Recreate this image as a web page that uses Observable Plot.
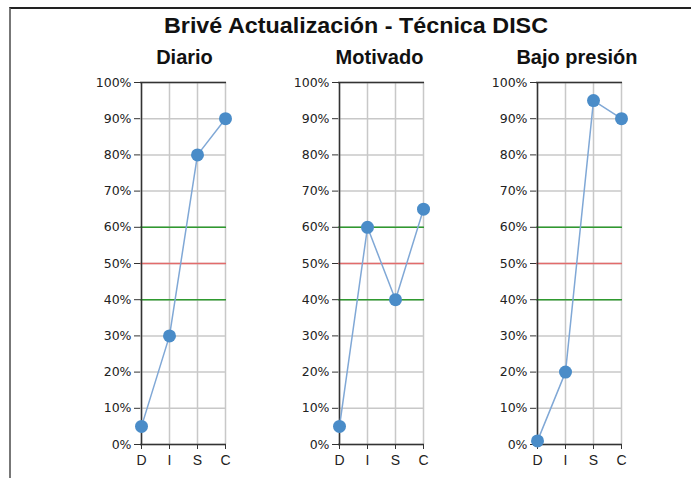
<!DOCTYPE html>
<html><head><meta charset="utf-8">
<script src="https://cdn.jsdelivr.net/npm/d3@7"></script>
<script src="https://cdn.jsdelivr.net/npm/@observablehq/plot@0.6"></script>
<style>
body{margin:0;background:#fff;font-family:"Liberation Sans",Arial,sans-serif;}
#wrap{position:relative;width:691px;height:478px;overflow:hidden;background:#fff;}
#frame{position:absolute;left:9px;top:7px;width:720px;height:520px;border-left:2px solid #777;border-top:2px solid #222;}
#title{position:absolute;top:13px;left:0;width:712px;text-align:center;font-weight:bold;font-size:22px;color:#111;white-space:nowrap;transform:scaleX(1.06);transform-origin:356px 0;}
.panel{position:absolute;top:72px;width:198px;}
.sub{position:absolute;top:46px;width:200px;text-align:center;font-weight:bold;font-size:20px;color:#111;white-space:nowrap;}
</style></head>
<body>
<div id="wrap"><div id="frame"></div><div id="title">Brivé Actualización - Técnica DISC</div></div>
<script>
const categories = ["D","I","S","C"];
const panelTitles = ["Diario","Motivado","Bajo presión"];
const diario = [5,30,80,90];
const motivado = [5,60,40,65];
const bajoPresion = [1,20,95,90];
const yTicks = [0,10,20,30,40,50,60,70,80,90,100];
const refGreen = [40,60];
const refRed = [50];

const series = [diario, motivado, bajoPresion];
const subCenters = [184.5, 379.5, 577];
const wrap = document.getElementById("wrap");
series.forEach((vals, i) => {
  const data = categories.map((k, j) => ({k, v: vals[j]}));
  const left = 85 + i * 198;
  const sub = document.createElement("div");
  sub.className = "sub";
  sub.style.left = (subCenters[i] - 100) + "px";
  sub.textContent = panelTitles[i];
  wrap.appendChild(sub);
  const chart = Plot.plot({
    width: 198, height: 402,
    marginLeft: 55, marginRight: 57, marginTop: 10, marginBottom: 30,
    style: {fontFamily: '"Liberation Sans", Arial, sans-serif', fontSize: "12px", color: "#222", background: "transparent", overflow: "visible"},
    x: {type: "point", domain: categories, padding: 0, label: null},
    y: {domain: [0, 100], label: null},
    marks: [
      Plot.ruleX(categories, {stroke: "#c8c8c8", strokeWidth: 1.5}),
      Plot.ruleY(yTicks, {stroke: "#c8c8c8", strokeWidth: 1.5}),
      Plot.ruleY(refGreen, {stroke: "#2f9a2f", strokeWidth: 1.5}),
      Plot.ruleY(refRed, {stroke: "#e36b6b", strokeWidth: 1.5}),
      Plot.ruleX([categories[0]], {stroke: "#333", strokeWidth: 1.5}),
      Plot.ruleY([0, 100], {stroke: "#333", strokeWidth: 1.5}),
      Plot.axisY({ticks: yTicks, tickFormat: d => d + "%", tickSize: 6, tickPadding: 3, label: null, stroke: "#333", fontFamily: '"DejaVu Sans", sans-serif', fontSize: "12.5px"}),
      Plot.axisX({tickSize: 5, tickPadding: 6, label: null, fontSize: "14px", stroke: "#333"}),
      Plot.line(data, {x: "k", y: "v", stroke: "#80a8d6", strokeWidth: 1.5}),
      Plot.dot(data, {x: "k", y: "v", r: 6.5, fill: "#4a8cc8"})
    ]
  });
  const div = document.createElement("div");
  div.className = "panel";
  div.style.left = left + "px";
  div.appendChild(chart);
  wrap.appendChild(div);
});
</script>
</body></html>
